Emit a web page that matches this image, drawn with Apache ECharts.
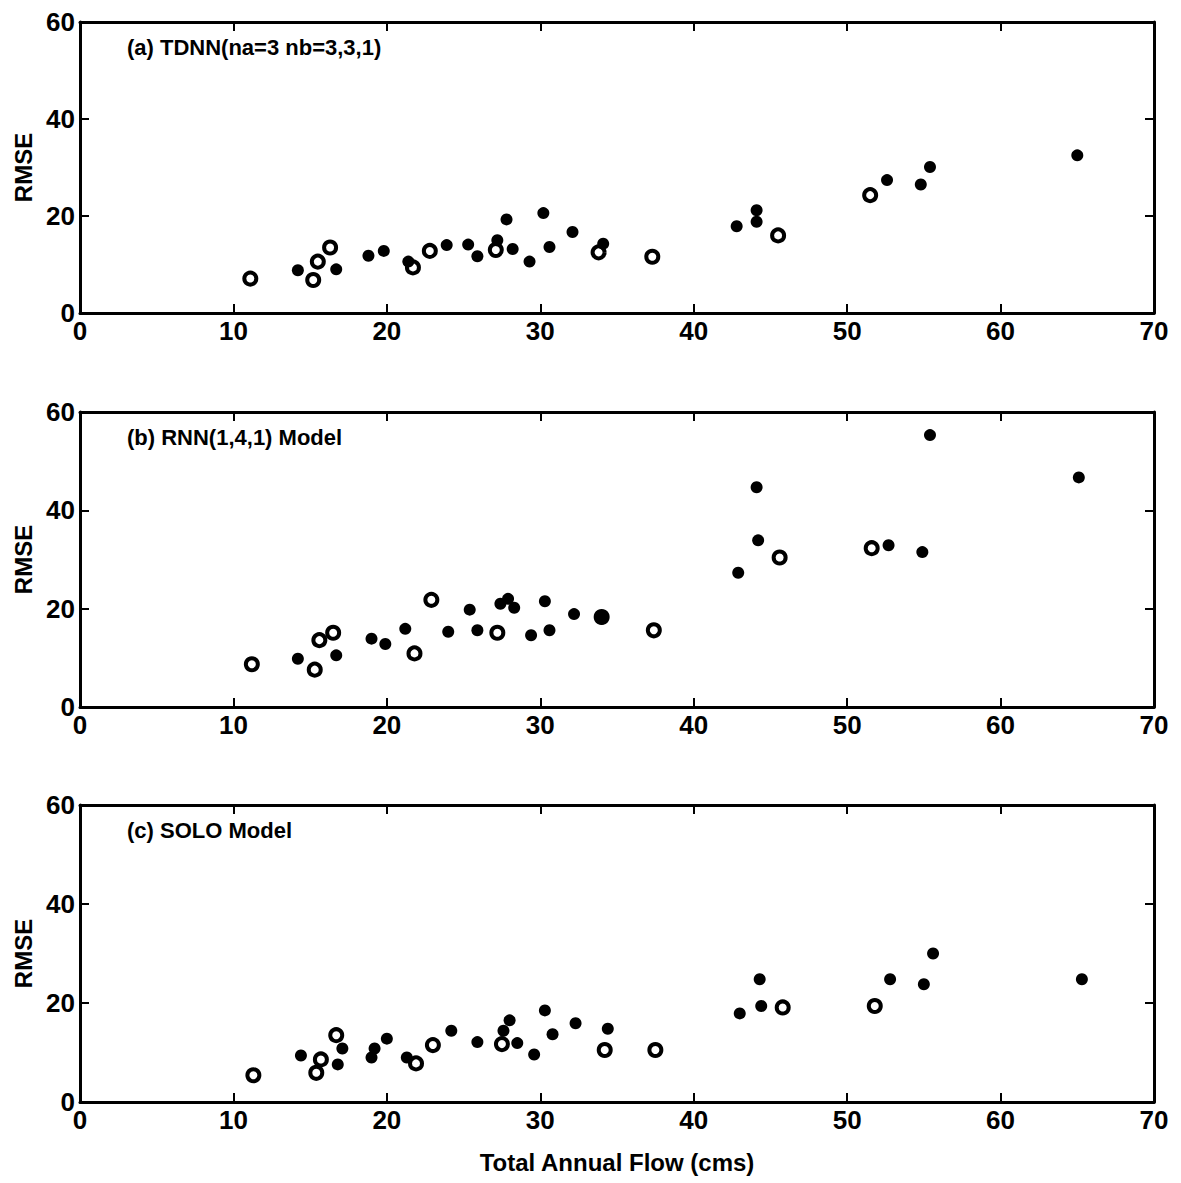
<!DOCTYPE html>
<html>
<head>
<meta charset="utf-8">
<script src="https://cdn.jsdelivr.net/npm/echarts@6/dist/echarts.min.js"></script>
<style>
  html, body { margin: 0; padding: 0; background: #fff; }
  #chart { width: 1181px; height: 1183px; }
</style>
</head>
<body>
<div id="chart"></div>
<script>
// panel titles
const panelTitles = ['(a) TDNN(na=3 nb=3,3,1)', '(b) RNN(1,4,1) Model', '(c) SOLO Model'];

// (a) TDNN  [flow, rmse]
const tdnnOpen = [[11.1, 7.1], [15.2, 6.8], [15.5, 10.6], [16.3, 13.5], [21.7, 9.4], [22.8, 12.8],
  [27.1, 13.0], [33.8, 12.5], [37.3, 11.6], [45.5, 16.0], [51.5, 24.3]];
const tdnnFilled = [[14.2, 8.8], [16.7, 9.0], [18.8, 11.8], [19.8, 12.8], [21.4, 10.6], [23.9, 14.0],
  [25.3, 14.1], [25.9, 11.7], [27.2, 15.0], [27.8, 19.3], [28.2, 13.2], [29.3, 10.6], [30.2, 20.6],
  [30.6, 13.6], [32.1, 16.7], [34.1, 14.3], [42.8, 17.9], [44.1, 21.2], [44.1, 18.8], [52.6, 27.4],
  [54.8, 26.5], [55.4, 30.1], [65.0, 32.5]];

// (b) RNN
const rnnOpen = [[11.2, 8.7], [15.3, 7.6], [15.6, 13.6], [16.5, 15.1], [21.8, 10.9], [22.9, 21.8],
  [27.2, 15.1], [34.0, 18.3], [37.4, 15.6], [45.6, 30.4], [51.6, 32.3]];
const rnnFilled = [[14.2, 9.8], [16.7, 10.5], [19.0, 13.9], [19.9, 12.8], [21.2, 15.9], [24.0, 15.3],
  [25.4, 19.8], [25.9, 15.6], [27.4, 21.0], [27.9, 22.0], [28.3, 20.2], [29.4, 14.6], [30.3, 21.5],
  [30.6, 15.6], [32.2, 18.9], [34.0, 18.0], [42.9, 27.3], [44.1, 44.7], [44.2, 33.9], [52.7, 32.9],
  [54.9, 31.5], [55.4, 55.3], [65.1, 46.7]];

// (c) SOLO
const soloOpen = [[11.3, 5.4], [15.4, 5.9], [15.7, 8.6], [16.7, 13.5], [21.9, 7.8], [23.0, 11.5],
  [27.5, 11.7], [34.2, 10.5], [37.5, 10.5], [45.8, 19.1], [51.8, 19.4]];
const soloFilled = [[14.4, 9.4], [16.8, 7.6], [17.1, 10.8], [19.0, 9.0], [19.2, 10.8], [20.0, 12.8],
  [21.3, 9.0], [24.2, 14.4], [25.9, 12.1], [27.6, 14.4], [28.0, 16.5], [28.5, 11.9], [29.6, 9.6],
  [30.3, 18.5], [30.8, 13.7], [32.3, 15.9], [34.4, 14.8], [43.0, 17.9], [44.3, 24.8], [44.4, 19.4],
  [52.8, 24.8], [55.0, 23.8], [55.6, 30.0], [65.3, 24.8]];

const panels = [
  { open: tdnnOpen, filled: tdnnFilled, top: 22, height: 291 },
  { open: rnnOpen, filled: rnnFilled, top: 412, height: 295 },
  { open: soloOpen, filled: soloFilled, top: 805, height: 297 }
];

const font = '"Liberation Sans Narrow", "Liberation Sans", Arial, sans-serif';
const ink = '#000';
const lineStyle = { color: ink, width: 3 };
const tick = { show: true, inside: true, length: 9, lineStyle: { color: ink, width: 2 } };

let grid = [], xAxis = [], yAxis = [], series = [], graphic = [];

panels.forEach(function (p, i) {
  grid.push({ left: 80, right: 27, top: p.top, height: p.height });
  // bottom x axis with labels
  xAxis.push({
    gridIndex: i, type: 'value', min: 0, max: 70, interval: 10,
    axisLine: { show: true, onZero: false, lineStyle: lineStyle },
    axisTick: tick,
    axisLabel: { color: ink, fontFamily: font, fontWeight: 'bold', fontSize: 26, margin: 5 },
    splitLine: { show: false },
    name: i === 2 ? 'Total Annual Flow (cms)' : '',
    nameLocation: 'middle', nameGap: 48,
    nameTextStyle: { color: ink, fontFamily: font, fontWeight: 'bold', fontSize: 24 }
  });
  // top x axis, ticks only
  xAxis.push({
    gridIndex: i, type: 'value', position: 'top', min: 0, max: 70, interval: 10,
    axisLine: { show: true, onZero: false, lineStyle: lineStyle },
    axisTick: tick,
    axisLabel: { show: false }, splitLine: { show: false }
  });
  yAxis.push({
    gridIndex: i, type: 'value', min: 0, max: 60, interval: 20,
    axisLine: { show: true, onZero: false, lineStyle: lineStyle },
    axisTick: tick,
    axisLabel: { color: ink, fontFamily: font, fontWeight: 'bold', fontSize: 26, margin: 5 },
    splitLine: { show: false },
    name: 'RMSE', nameLocation: 'middle', nameGap: 42, nameRotate: 90,
    nameTextStyle: { color: ink, fontFamily: font, fontWeight: 'bold', fontSize: 24 }
  });
  // right y axis, ticks only
  yAxis.push({
    gridIndex: i, type: 'value', position: 'right', min: 0, max: 60, interval: 20,
    axisLine: { show: true, onZero: false, lineStyle: lineStyle },
    axisTick: tick,
    axisLabel: { show: false }, splitLine: { show: false }
  });

  series.push({
    type: 'scatter', xAxisIndex: i * 2, yAxisIndex: i * 2,
    data: p.open, symbol: 'circle', symbolSize: 12,
    itemStyle: { color: '#fff', borderColor: ink, borderWidth: 4, opacity: 1 }
  });
  series.push({
    type: 'scatter', xAxisIndex: i * 2, yAxisIndex: i * 2,
    data: p.filled, symbol: 'circle', symbolSize: 12,
    itemStyle: { color: ink, opacity: 1 }
  });

  graphic.push({
    type: 'text', left: 127, top: p.top + 14,
    style: { text: panelTitles[i], fill: ink, font: 'bold 22px ' + font }
  });
});

const myChart = echarts.init(document.getElementById('chart'), null, { renderer: 'svg' });
myChart.setOption({
  backgroundColor: '#fff',
  animation: false,
  grid: grid,
  xAxis: xAxis,
  yAxis: yAxis,
  series: series,
  graphic: graphic
});
</script>
</body>
</html>
